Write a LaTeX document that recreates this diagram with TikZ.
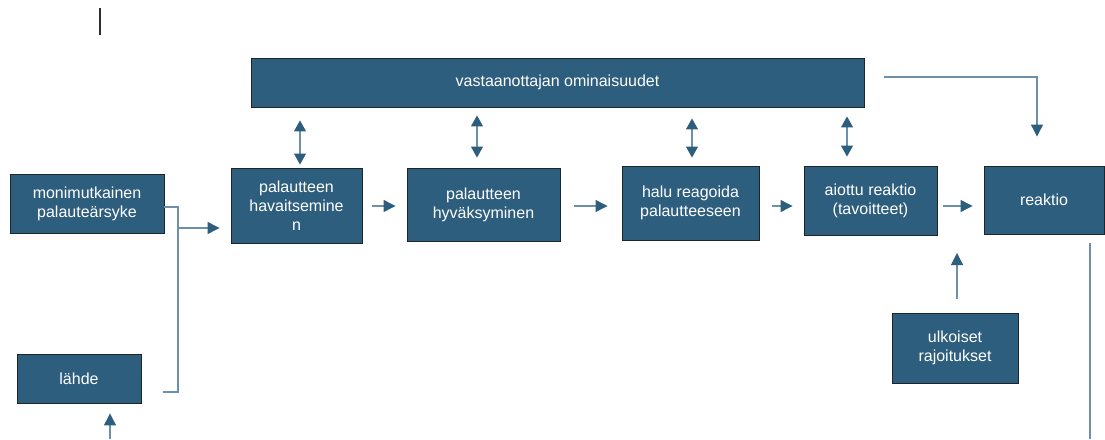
\documentclass[tikz,border=0pt]{standalone}
\usepackage{fontspec}
\setmainfont{Liberation Sans}
\usetikzlibrary{arrows.meta}

\definecolor{boxblue}{RGB}{46,94,126}
\definecolor{boxedge}{RGB}{28,36,44}
\definecolor{linkblue}{RGB}{108,144,172}
\definecolor{cursorgray}{RGB}{45,45,45}

\tikzset{
  stage/.style={draw=boxedge, line width=0.9pt, fill=boxblue, text=white,
    align=center, inner sep=2pt,
    font=\fontsize{16}{19}\selectfont},
  link/.style={draw=linkblue, line width=1.2pt},
  arr/.style={link, -{Triangle[width=12pt,length=12pt,color=boxblue]}},
  dbl/.style={link, {Triangle[width=12pt,length=11pt,color=boxblue]}-{Triangle[width=12pt,length=11pt,color=boxblue]}},
}

\begin{document}
\begin{tikzpicture}[x=1pt, y=-1pt]
\useasboundingbox (0,0) rectangle (1105,439);

% text cursor mark
\draw[cursorgray, line width=2pt] (100,8) -- (100,35);

% boxes
\node[stage, minimum width=613, minimum height=49] (top) at (557.5,82.5) {vastaanottajan ominaisuudet};
\node[stage, minimum width=154, minimum height=59] (mon) at (87,203.5) {monimutkainen\\palauteärsyke};
\node[stage, minimum width=124, minimum height=49] (lah) at (79,378.5) {lähde};
\node[stage, minimum width=131, minimum height=75] (hav) at (296.5,205.5) {palautteen\\havaitsemine\\n};
\node[stage, minimum width=153, minimum height=73] (hyv) at (483.5,204.5) {palautteen\\hyväksyminen};
\node[stage, minimum width=137, minimum height=74] (halu) at (690.5,203) {halu reagoida\\palautteeseen};
\node[stage, minimum width=133, minimum height=69] (aio) at (870.5,200.5) {aiottu reaktio\\(tavoitteet)};
\node[stage, minimum width=120, minimum height=68] (rea) at (1044,200) {reaktio};
\node[stage, minimum width=126, minimum height=70] (ulk) at (955,348) {ulkoiset\\rajoitukset};

% helper points
\coordinate (bendtop) at (178,207);
\coordinate (bendbot) at (178,392);
\coordinate (brkend) at (163,392);
\coordinate (join) at (178,228);
\coordinate (srcin) at (110,439);
\coordinate (limit) at (957,253);
\coordinate (outend) at (1090,439);
\coordinate (row) at (0,206);
\coordinate (c1) at (300,0);
\coordinate (c2) at (477,0);
\coordinate (c3) at (692,0);
\coordinate (c4) at (847,0);

% bracket joining the stimulus and the source
\draw[link] (mon.east |- bendtop) -- (bendtop) -- (bendbot) -- (brkend);
\draw[arr, shorten >=11pt] (join) -- (join -| hav.west);

% input to the source
\draw[arr, shorten >=10pt] (srcin) -- (srcin |- lah.south);

% main chain
\draw[arr, shorten <=10pt, shorten >=11pt] (hav.east |- row) -- (hyv.west |- row);
\draw[arr, shorten <=14pt, shorten >=14pt] (hyv.east |- row) -- (halu.west |- row);
\draw[arr, shorten <=13pt, shorten >=11pt] (halu.east |- row) -- (aio.west |- row);
\draw[arr, shorten <=6pt, shorten >=11pt] (aio.east |- row) -- (rea.west |- row);

% receiver characteristics interact with each stage
\draw[dbl, shorten <=13pt, shorten >=3pt] (top.south -| c1) -- (hav.north -| c1);
\draw[dbl, shorten <=8pt, shorten >=10pt] (top.south -| c2) -- (hyv.north -| c2);
\draw[dbl, shorten <=11pt, shorten >=8pt] (top.south -| c3) -- (halu.north -| c3);
\draw[dbl, shorten <=9pt, shorten >=9pt] (top.south -| c4) -- (aio.north -| c4);

% receiver characteristics to reaction
\draw[arr, shorten <=20pt, shorten >=29pt] ([yshift=5.5pt]top.east) -| ([xshift=-7pt]rea.north);

% external constraints
\draw[arr, shorten <=14pt] (ulk.north -| limit) -- (limit);

% reaction output
\draw[link, shorten <=9pt] (rea.south -| outend) -- (outend);
\end{tikzpicture}
\end{document}
